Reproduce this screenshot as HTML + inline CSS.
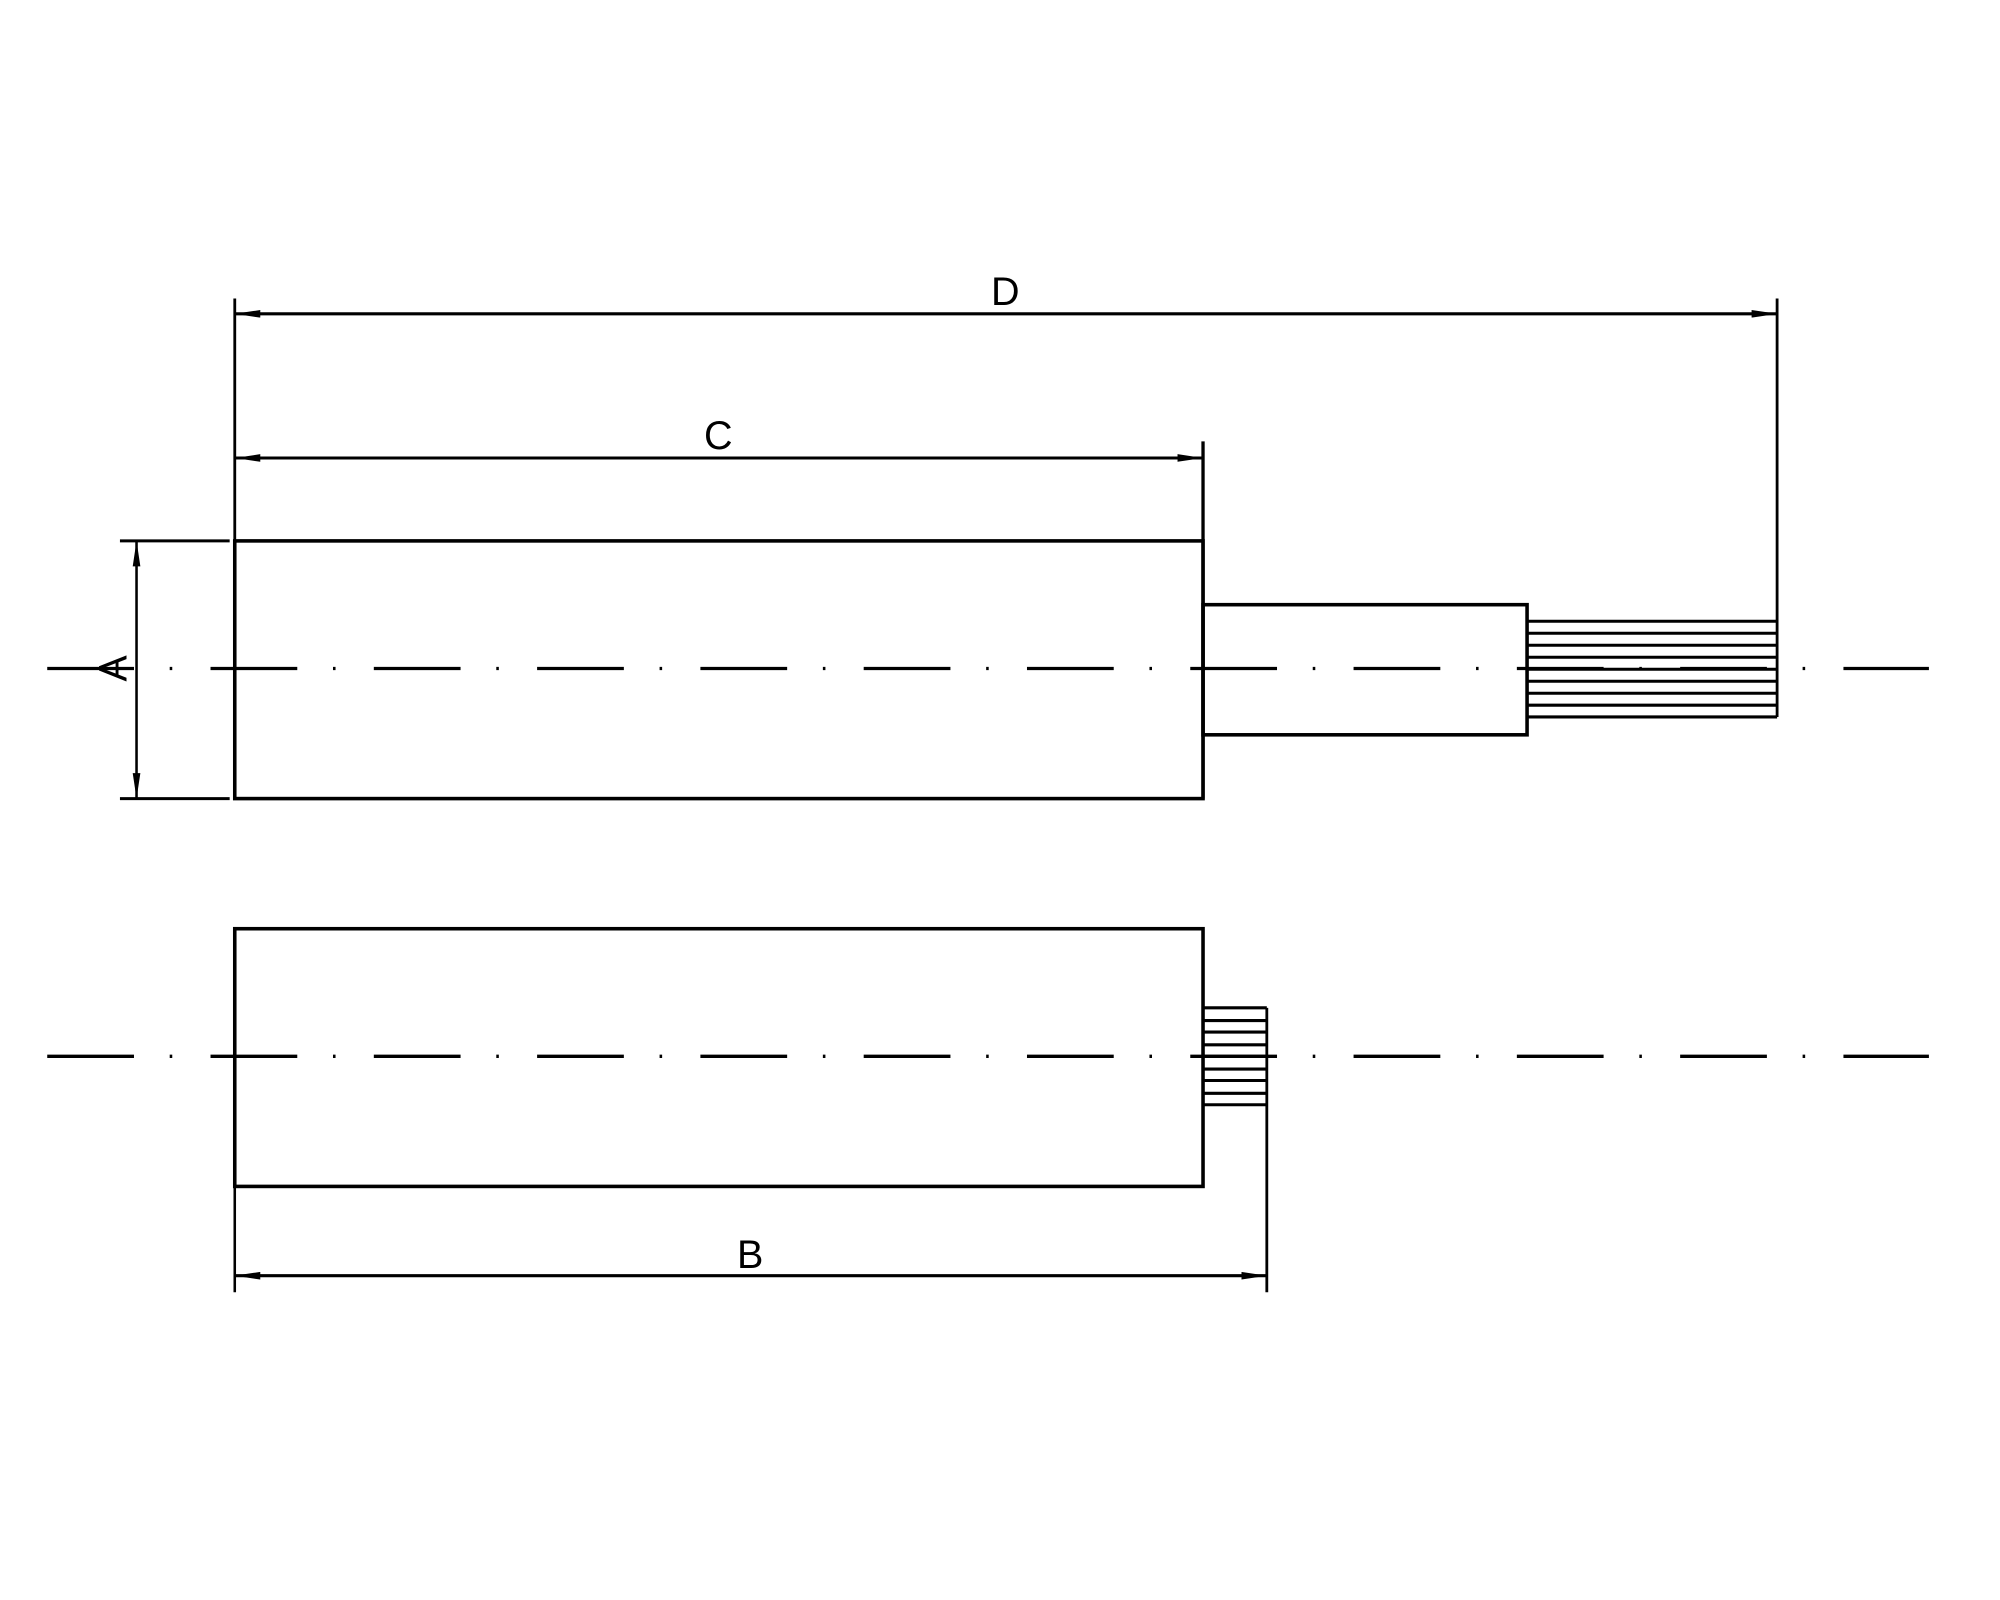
<!DOCTYPE html>
<html><head><meta charset="utf-8"><style>html,body{margin:0;padding:0;background:#fff}svg{display:block}</style></head>
<body>
<svg width="2000" height="1600" viewBox="0 0 1567.7 1254.2" xmlns="http://www.w3.org/2000/svg">
<defs>
<marker id="ar" viewBox="0 0 20 6" refX="20" refY="3" markerWidth="20" markerHeight="6" markerUnits="userSpaceOnUse" orient="auto-start-reverse">
<path d="M0,0 L20,3 L0,6 Z" fill="#000"/>
</marker>
</defs>
<g stroke="#000" fill="none">
<line x1="37" y1="524" x2="1512" y2="524" stroke-width="2.6" stroke-dasharray="68 28 2 30"/>
<line x1="37" y1="828" x2="1512" y2="828" stroke-width="2.6" stroke-dasharray="68 28 2 30"/>
<rect x="184" y="424" width="759" height="202" stroke-width="2.8"/>
<rect x="943" y="474" width="254" height="102" stroke-width="2.8"/>
<g stroke-width="2.4">
<line x1="1197" y1="487" x2="1393" y2="487"/>
<line x1="1197" y1="496.4" x2="1393" y2="496.4"/>
<line x1="1197" y1="505.8" x2="1393" y2="505.8"/>
<line x1="1197" y1="515.2" x2="1393" y2="515.2"/>
<line x1="1197" y1="524.6" x2="1393" y2="524.6"/>
<line x1="1197" y1="534" x2="1393" y2="534"/>
<line x1="1197" y1="543.4" x2="1393" y2="543.4"/>
<line x1="1197" y1="552.8" x2="1393" y2="552.8"/>
<line x1="1197" y1="562" x2="1393" y2="562"/>
</g>
<line x1="184" y1="234" x2="184" y2="626" stroke-width="2.2"/>
<line x1="1393" y1="234" x2="1393" y2="562" stroke-width="2.2"/>
<line x1="943" y1="346" x2="943" y2="626" stroke-width="2.6"/>
<line x1="94" y1="424" x2="180" y2="424" stroke-width="2.4"/>
<line x1="94" y1="626" x2="180" y2="626" stroke-width="2.4"/>
<line x1="184" y1="246" x2="1393" y2="246" stroke-width="2.4" marker-start="url(#ar)" marker-end="url(#ar)"/>
<line x1="184" y1="359" x2="943" y2="359" stroke-width="2.4" marker-start="url(#ar)" marker-end="url(#ar)"/>
<line x1="107" y1="424" x2="107" y2="626" stroke-width="2" marker-start="url(#ar)" marker-end="url(#ar)"/>
<rect x="184" y="728" width="759" height="202" stroke-width="2.8"/>
<g stroke-width="2.4">
<line x1="943" y1="790" x2="993" y2="790"/>
<line x1="943" y1="800" x2="993" y2="800"/>
<line x1="943" y1="809" x2="993" y2="809"/>
<line x1="943" y1="819" x2="993" y2="819"/>
<line x1="943" y1="828" x2="993" y2="828"/>
<line x1="943" y1="838" x2="993" y2="838"/>
<line x1="943" y1="847" x2="993" y2="847"/>
<line x1="943" y1="857" x2="993" y2="857"/>
<line x1="943" y1="866" x2="993" y2="866"/>
</g>
<line x1="993" y1="790" x2="993" y2="1013" stroke-width="2.2"/>
<line x1="184" y1="930" x2="184" y2="1013" stroke-width="2"/>
<line x1="184" y1="1000" x2="993" y2="1000" stroke-width="2.4" marker-start="url(#ar)" marker-end="url(#ar)"/>
</g>
<g font-family="Liberation Sans, sans-serif" font-size="31" fill="#000" text-anchor="middle">
<text x="788" y="239">D</text>
<text x="563" y="352">C</text>
<text x="588" y="994">B</text>
<text transform="translate(99,524) rotate(-90)">A</text>
</g>
</svg>
</body></html>
